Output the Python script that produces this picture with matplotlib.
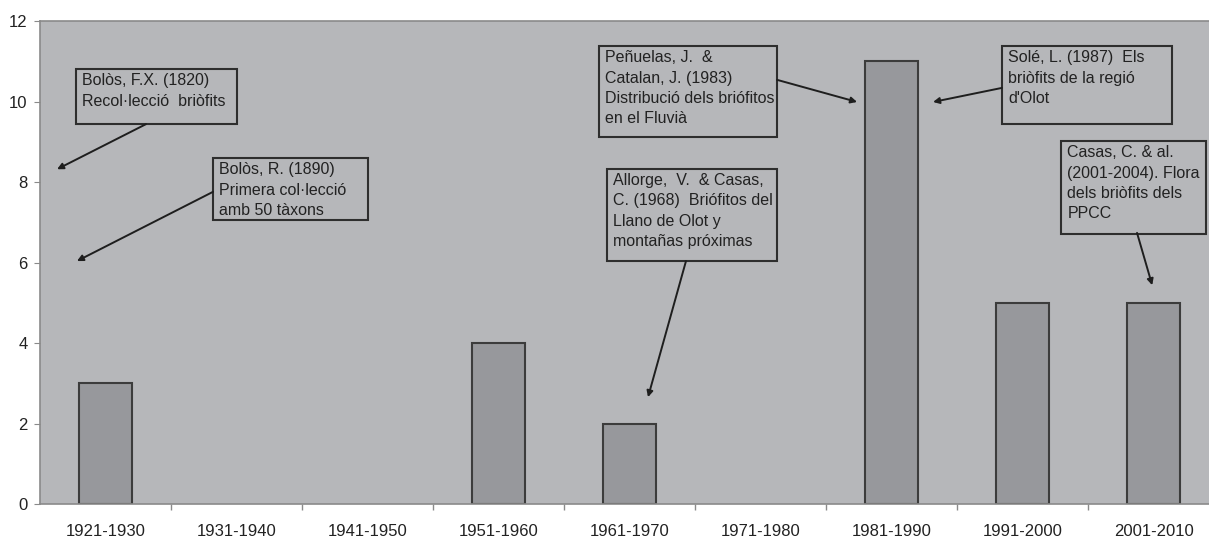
import matplotlib.pyplot as plt
from matplotlib.patches import Rectangle

periodes = ['1921-1930', '1931-1940', '1941-1950', '1951-1960', '1961-1970',
            '1971-1980', '1981-1990', '1991-2000', '2001-2010']
treballs = [3, 0, 0, 4, 2, 0, 11, 5, 5]

# notes: text, box (x0, x1, y_bottom, y_top), arrow start, arrow end
notes = [
    ("Bolòs, F.X. (1820)\nRecol·lecció  briòfits",
     (-0.225, 1.004, 9.44, 10.81), (0.309, 9.44), (-0.37, 8.32)),
    ("Bolòs, R. (1890)\nPrimera col·lecció\namb 50 tàxons",
     (0.821, 2.004, 7.06, 8.60), (0.821, 7.76), (-0.218, 6.04)),
    ("Peñuelas, J.  &\nCatalan, J. (1983)\nDistribució dels briófitos\nen el Fluvià",
     (3.767, 5.126, 9.12, 11.38), (5.126, 10.54), (5.737, 9.99)),
    ("Allorge,  V.  & Casas,\nC. (1968)  Briófitos del\nLlano de Olot y\nmontañas próximas",
     (3.828, 5.126, 6.04, 8.33), (4.431, 6.04), (4.141, 2.66)),
    ("Solé, L. (1987)  Els\nbriòfits de la regió\nd'Olot",
     (6.843, 8.141, 9.44, 11.38), (6.843, 10.34), (6.317, 9.99)),
    ("Casas, C. & al.\n(2001-2004). Flora\ndels briòfits dels\nPPCC",
     (7.294, 8.401, 6.71, 9.02), (7.874, 6.74), (7.99, 5.44)),
]

plt.rcParams['font.family'] = ['Liberation Sans', 'DejaVu Sans']

fons = '#b6b7ba'
fig = plt.figure(figsize=(12.09, 5.38), dpi=100)
ax = fig.add_axes([0.0331, 0.0626, 0.9752, 0.8983])
ax.set_facecolor(fons)

x = range(len(periodes))
vores = ['#3c3c3c' if v > 0 else 'none' for v in treballs]
ax.bar(x, treballs, width=0.41, color='#97989c', edgecolor=vores, linewidth=1.5, zorder=2)

ax.set_xlim(-0.5, len(periodes) - 0.5)
ax.set_ylim(0, 12)
ax.set_yticks(range(0, 13, 2))
ax.set_xticks(list(x))
ax.set_xticklabels(periodes)
ax.set_xticks([i + 0.5 for i in range(len(periodes) - 1)], minor=True)

ax.tick_params(axis='x', which='major', length=0, pad=14, labelsize=12, labelcolor='#222222')
ax.tick_params(axis='x', which='minor', length=4, color='#8a8a8a', width=1)
ax.tick_params(axis='y', length=4, color='#8a8a8a', labelsize=12, labelcolor='#222222', pad=5)

for s in ['left', 'bottom', 'top']:
    ax.spines[s].set_color('#8a8a8a')
    ax.spines[s].set_linewidth(1.2)
ax.spines['right'].set_visible(False)

for text, (x0, x1, y0, y1), start, end in notes:
    ax.add_patch(Rectangle((x0, y0), x1 - x0, y1 - y0, facecolor=fons,
                           edgecolor='#2e2e2e', linewidth=1.5, zorder=3))
    ax.annotate(text, xy=(x0, y1), xytext=(4.5, -3), textcoords='offset points',
                ha='left', va='top', fontsize=11.5, color='#222222',
                linespacing=1.45, zorder=4)
    ax.annotate('', xy=end, xytext=start,
                arrowprops=dict(arrowstyle='-|>', color='#1e1e1e', lw=1.4,
                                mutation_scale=9, shrinkA=0, shrinkB=0),
                zorder=4)

plt.savefig('out.png', dpi=100)
